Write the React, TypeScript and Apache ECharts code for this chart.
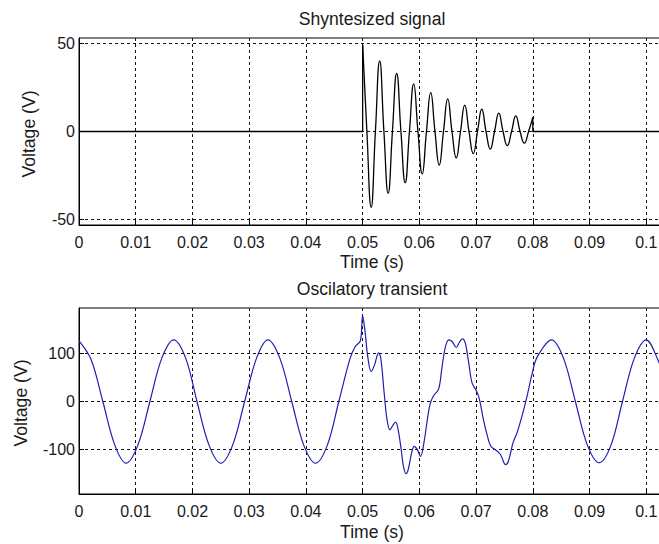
import React, { useEffect, useRef } from "react";
import * as echarts from "echarts";

// Top: synthesized damped oscillation (Time s, Voltage V)
const synthTime = [0.05, 0.05075, 0.0515, 0.05225, 0.053, 0.05375, 0.0545, 0.05525, 0.056, 0.05675, 0.0575, 0.05825, 0.059, 0.05975, 0.0605, 0.06125, 0.062, 0.06275, 0.0635, 0.06425, 0.065, 0.06575, 0.0665, 0.06725, 0.068, 0.06875, 0.0695, 0.07025, 0.071, 0.07175, 0.0725, 0.07325, 0.074, 0.07475, 0.0755, 0.07625, 0.077, 0.07775, 0.0785, 0.07925, 0.08];
const synthVolt = [49, 0, -43, 0, 40, 0, -35, 0, 33, 0, -29, 0, 27, 0, -24, 0, 22, 0, -19, 0, 18.5, 0, -15, 0, 15, 0, -12.5, 0, 12.6, 0, -10, 0, 10.4, 0, -8, 0, 8.9, 0, -6.6, 0, 8];
const flatBeforeTime = [0, 0.05, 0.05];
const flatBeforeVolt = [0, 0, 49];
const flatAfterTime = [0.08, 0.08, 0.1033];
const flatAfterVolt = [8, 0, 0];

// Bottom: oscillatory transient
const transTime = [
  0, 0.0021, 0.0042, 0.0063, 0.0083, 0.0104, 0.0125, 0.0146, 0.0167, 0.0188, 0.0208, 0.0229,
  0.025, 0.0271, 0.0292, 0.0313, 0.0333, 0.0354, 0.0375, 0.0396, 0.0417, 0.0438, 0.0458,
  0.0478, 0.0487, 0.0496, 0.05, 0.0504, 0.0509, 0.0515, 0.0521, 0.0528, 0.0532, 0.0538, 0.0543,
  0.0548, 0.0552, 0.0558, 0.0562, 0.0568, 0.0572, 0.0577, 0.0581, 0.0587, 0.0591, 0.0596, 0.0602,
  0.0608, 0.0614, 0.0619, 0.0625, 0.0634, 0.064, 0.0646, 0.0652, 0.0658, 0.0665, 0.0671, 0.0676,
  0.0681, 0.0687, 0.0693, 0.0701, 0.0706, 0.0713, 0.072, 0.0726, 0.0734, 0.0743, 0.0752, 0.0757,
  0.0765, 0.0773, 0.0784, 0.0791, 0.0799, 0.0808, 0.0833, 0.0854, 0.0875, 0.0896, 0.0917, 0.0938,
  0.0958, 0.0979, 0.1, 0.1021, 0.1033,
];
const transVolt = [
  126, 88, 0, -90, -128, -90, 0, 90, 128, 90, 0, -90,
  -128, -90, 0, 90, 128, 90, 0, -90, -128, -90, 0,
  90, 114, 126, 178, 148, 93, 62, 76, 101, 90, 17, -38,
  -59, -52, -43, -55, -100, -135, -150, -138, -103, -93, -99, -114,
  -86, -38, -5, 12, 26, 72, 114, 128, 124, 112, 124, 130,
  121, 80, 38, 21, 4, -38, -72, -93, -100, -110, -131, -124,
  -86, -62, -17, 17, 59, 93, 128, 90, 0, -90, -127, -90,
  0, 90, 128, 85, 45,
];

const xTicks = [0, 0.01, 0.02, 0.03, 0.04, 0.05, 0.06, 0.07, 0.08, 0.09, 0.1];
const yTicksTop = [-50, 0, 50];
const yTicksBottom = [-100, 0, 100];

const FONT = "'Liberation Sans', Arial, sans-serif";
const TXT = "#1a1a1a";

const pairs = (xs: number[], ys: number[]) => xs.map((x, i) => [x, ys[i]]);

export default function App() {
  const ref = useRef<HTMLDivElement>(null);
  useEffect(() => {
    document.body.style.margin = "0";
    if (!ref.current) return;
    const chart = echarts.init(ref.current, undefined, { renderer: "svg" });
    const gridLine = { show: true, lineStyle: { color: "#111", type: [3, 3] as any, width: 1 } };
    const xAxisBase = (gi: number) => ({
      type: "value" as const,
      gridIndex: gi,
      min: 0,
      max: 0.1033,
      axisLine: { show: true, onZero: false, lineStyle: { color: "#000", width: 1 } },
      axisTick: { show: true, inside: true, length: 5, customValues: xTicks, lineStyle: { color: "#000" } },
      axisLabel: {
        customValues: xTicks,
        formatter: (v: number) => String(v),
        color: TXT,
        fontSize: 16,
        fontFamily: FONT,
        margin: 9,
      },
      splitLine: gridLine,
    });
    const yAxisBase = (gi: number, min: number, max: number, ticks: number[]) => ({
      type: "value" as const,
      gridIndex: gi,
      min,
      max,
      axisLine: { show: true, lineStyle: { color: "#000", width: 1 } },
      axisTick: { show: true, inside: true, length: 5, customValues: ticks, lineStyle: { color: "#000" } },
      axisLabel: { customValues: ticks, color: TXT, fontSize: 16, fontFamily: FONT, margin: 4 },
      splitLine: gridLine,
    });
    const text = (t: string, x: number, y: number, size: number, rot = 0) => ({
      type: "text",
      x,
      y,
      rotation: rot,
      style: {
        text: t,
        fill: TXT,
        font: `${size}px ${FONT}`,
        textAlign: "center",
        textVerticalAlign: "middle",
      },
    });
    chart.setOption({
      animation: false,
      backgroundColor: "#fff",
      grid: [
        { left: 79, top: 38, width: 586, height: 187, show: true, borderColor: "#000", borderWidth: 1, outerBoundsMode: "none", containLabel: false },
        { left: 79, top: 308, width: 586, height: 186, show: true, borderColor: "#000", borderWidth: 1, outerBoundsMode: "none", containLabel: false },
      ],
      xAxis: [xAxisBase(0), xAxisBase(1)],
      yAxis: [yAxisBase(0, -53, 53, yTicksTop), yAxisBase(1, -192, 194, yTicksBottom)],
      graphic: [
        text("Shyntesized signal", 372, 19, 17.6),
        text("Time (s)", 372, 262, 17.6),
        text("Oscilatory transient", 372, 289, 17.6),
        text("Time (s)", 372, 532, 17.6),
        text("Voltage (V)", 29, 134, 17.6, Math.PI / 2),
        text("Voltage (V)", 21, 403, 17.6, Math.PI / 2),
      ],
      series: [
        {
          type: "line", xAxisIndex: 0, yAxisIndex: 0, showSymbol: false,
          data: pairs(flatBeforeTime, flatBeforeVolt),
          lineStyle: { color: "#000", width: 1.3 },
        },
        {
          type: "line", xAxisIndex: 0, yAxisIndex: 0, showSymbol: false, smooth: 0.5,
          data: pairs(synthTime, synthVolt),
          lineStyle: { color: "#000", width: 1.3 },
        },
        {
          type: "line", xAxisIndex: 0, yAxisIndex: 0, showSymbol: false,
          data: pairs(flatAfterTime, flatAfterVolt),
          lineStyle: { color: "#000", width: 1.3 },
        },
        {
          type: "line", xAxisIndex: 1, yAxisIndex: 1, showSymbol: false, smooth: 0.35,
          data: pairs(transTime, transVolt),
          lineStyle: { color: "#1f1fb0", width: 1.2 },
        },
      ],
    });
    return () => chart.dispose();
  }, []);
  return (
    <div
      ref={ref}
      style={{ position: "absolute", left: 0, top: 0, width: 659, height: 544, background: "#fff" }}
    />
  );
}
